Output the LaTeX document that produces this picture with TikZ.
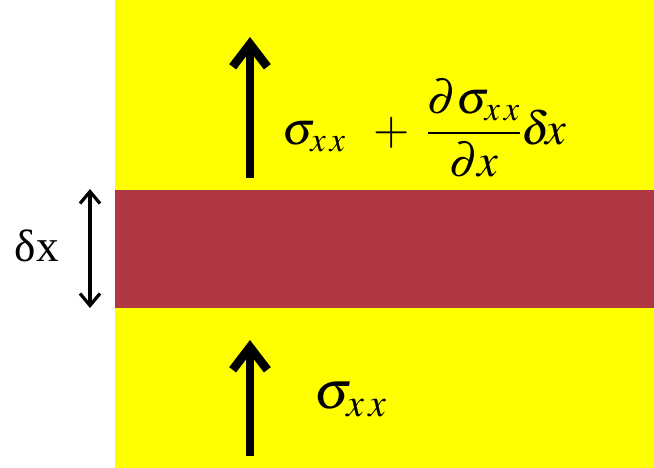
\documentclass[tikz,border=0pt]{standalone}
\usepackage{mathptmx}
\usepackage{fontspec}
\newfontfamily\tms{Liberation Serif}
\usetikzlibrary{arrows.meta}
\definecolor{bgyellow}{RGB}{255,255,0}
\definecolor{bandred}{RGB}{176,56,66}
\tikzset{
  bigarrow/.style={line width=6.5pt,-{Straight Barb[length=17pt,width=26pt]}},
  dimarrow/.style={line width=2.4pt,{Straight Barb[length=9pt,width=15pt]}-{Straight Barb[length=9pt,width=15pt]}},
  lbl/.style={inner sep=0pt,text=black}
}
\begin{document}
\begin{tikzpicture}[x=0.75pt,y=-0.75pt]
\useasboundingbox (0,0) rectangle (654,468);
\fill[white] (0,0) rectangle (654,468);
\fill[bgyellow] (115,0) rectangle (654,468);
\fill[bandred] (115,190) rectangle (654,308);
% dimension arrow
\coordinate (dtop) at (90,189);
\coordinate (dbot) at (90,308);
\draw[dimarrow] (dbot) -- (dtop);
\node[lbl,anchor=base] (dlab) at (37,261) {\fontsize{34}{38}\selectfont\tms δx};
% upper arrow
\coordinate (ua0) at (250,178);
\coordinate (ua1) at (250,37);
\draw[bigarrow] (ua0) -- (ua1);
\node[lbl,anchor=west] (utext) at (282,128) {\fontsize{35}{42}\selectfont$\displaystyle \sigma_{x\,x}\;\;+\;\frac{\partial\sigma_{x\,x}}{\partial x}\delta\!x$};
% lower arrow
\coordinate (la0) at (250,456);
\coordinate (la1) at (250,340);
\draw[bigarrow] (la0) -- (la1);
\node[lbl,anchor=base west] (ltext) at (314,408) {\fontsize{40}{46}\selectfont$\sigma_{x\,x}$};
\end{tikzpicture}
\end{document}
